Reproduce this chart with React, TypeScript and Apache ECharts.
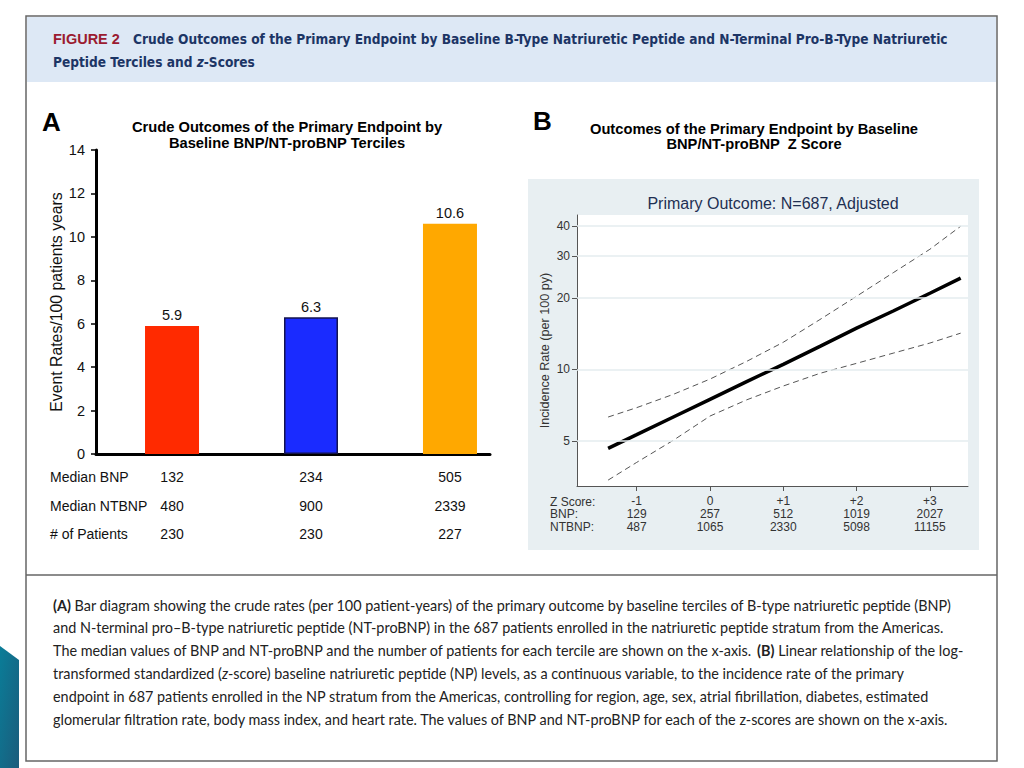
import React, { useEffect, useRef } from 'react';
import * as echarts from 'echarts';

// ---------- Panel A data ----------
const tercilePositions = [0, 1, 2];
const tercileRates = [5.9, 6.3, 10.6];
const tercileColors = ['#ff2a00', '#1a2bff', '#ffa800'];
const medianBNP = [132, 234, 505];
const medianNTBNP = [480, 900, 2339];
const patientCounts = [230, 230, 227];
const rowLabelsA = ['Median BNP', 'Median NTBNP', '# of Patients'];
const rateTicks = [0, 2, 4, 6, 8, 10, 12, 14];

// ---------- Panel B data ----------
const zTicks = [-1, 0, 1, 2, 3];
const zTickLabels = ['-1', '0', '+1', '+2', '+3'];
const bnpAtZ = [129, 257, 512, 1019, 2027];
const ntbnpAtZ = [487, 1065, 2330, 5098, 11155];
const rowLabelsB = ['Z Score:', 'BNP:', 'NTBNP:'];
const incidenceTicks = [5, 10, 20, 30, 40];
const zScores = [-1.39, -1, -0.5, 0, 0.5, 1, 1.5, 2, 2.5, 3, 3.42];
const incidence = [4.65, 5.31, 6.3, 7.48, 8.88, 10.5, 12.5, 14.9, 17.6, 20.9, 24.2];
const upperCI = [6.3, 6.9, 7.85, 9.1, 10.8, 13.0, 16.2, 20.3, 25.5, 32.0, 40.0];
const lowerCI = [3.42, 4.06, 5.03, 6.36, 7.44, 8.51, 9.62, 10.6, 11.7, 12.9, 14.2];

// ---------- Texts ----------
const headerLabel = 'FIGURE 2';
const headerLine1 =
  'Crude Outcomes of the Primary Endpoint by Baseline B-Type Natriuretic Peptide and N-Terminal Pro-B-Type Natriuretic';
const headerLine2 = 'Peptide Terciles and {i|z}-Scores';
const titleA = 'Crude Outcomes of the Primary Endpoint by\nBaseline BNP/NT-proBNP Terciles';
const titleB = 'Outcomes of the Primary Endpoint by Baseline\nBNP/NT-proBNP  Z Score';
const subtitleB = 'Primary Outcome: N=687, Adjusted';
const yNameA = 'Event Rates/100 patients years';
const yNameB = 'Incidence Rate (per 100 py)';
const captionLines = [
  '{b|(A)} Bar diagram showing the crude rates (per 100 patient-years) of the primary outcome by baseline terciles of B-type natriuretic peptide (BNP)',
  'and N-terminal pro–B-type natriuretic peptide (NT-proBNP) in the 687 patients enrolled in the natriuretic peptide stratum from the Americas.',
  'The median values of BNP and NT-proBNP and the number of patients for each tercile are shown on the x-axis. {b|(B)} Linear relationship of the log-',
  'transformed standardized ({i|z}-score) baseline natriuretic peptide (NP) levels, as a continuous variable, to the incidence rate of the primary',
  'endpoint in 687 patients enrolled in the NP stratum from the Americas, controlling for region, age, sex, atrial fibrillation, diabetes, estimated',
  'glomerular filtration rate, body mass index, and heart rate. The values of BNP and NT-proBNP for each of the z-scores are shown on the x-axis.',
];

const FONT = "'Liberation Sans', Arial, Helvetica, sans-serif";
const NARROW = "'Liberation Sans Narrow', 'DejaVu Sans Condensed', 'Liberation Sans', sans-serif";
const CAP = "Lato, 'Open Sans', sans-serif";
const CAP_SIZE = 14.4;
const HEAD_SIZE = 13.6;

function buildOption() {
  const captionEls = captionLines.map((line, i) => ({
    type: 'text',
    x: 53,
    y: 605 + i * 22.8,
    style: {
      text: line,
      fill: '#222',
      fontFamily: CAP,
      fontSize: CAP_SIZE,
      verticalAlign: 'middle',
      rich: {
        b: { fontFamily: CAP, fontSize: CAP_SIZE, fontWeight: 'bold', fill: '#222' },
        i: { fontFamily: CAP, fontSize: CAP_SIZE, fontStyle: 'italic', fill: '#222' },
      },
    },
  }));

  return {
    animation: false,
    textStyle: { fontFamily: FONT },
    grid: [
      { left: 96, top: 150, width: 394, height: 304, show: false },
      { left: 577, top: 215, width: 391, height: 271, show: true, backgroundColor: '#ffffff', borderWidth: 0 },
    ],
    xAxis: [
      {
        gridIndex: 0,
        type: 'value',
        min: -0.547,
        max: 2.288,
        axisLine: { show: true, onZero: false, lineStyle: { color: '#000', width: 3 } },
        axisTick: { show: false },
        splitLine: { show: false },
        axisLabel: {
          customValues: tercilePositions,
          formatter: (v: number) => {
            const i = Math.round(v);
            return `${medianBNP[i]}\n${medianNTBNP[i]}\n${patientCounts[i]}`;
          },
          fontSize: 14,
          lineHeight: 28.5,
          color: '#111',
          margin: 9,
          fontFamily: FONT,
        },
      },
      {
        gridIndex: 1,
        type: 'value',
        min: -1.8145,
        max: 3.52,
        axisLine: { show: true, onZero: false, lineStyle: { color: '#555', width: 1 } },
        axisTick: { show: true, customValues: zTicks, length: 5, lineStyle: { color: '#555' } },
        splitLine: { show: false },
        axisLabel: {
          customValues: zTicks,
          formatter: (v: number) => {
            const i = zTicks.indexOf(Math.round(v));
            return `${zTickLabels[i]}\n${bnpAtZ[i]}\n${ntbnpAtZ[i]}`;
          },
          fontSize: 12,
          lineHeight: 12.8,
          color: '#333',
          margin: 9,
          fontFamily: FONT,
        },
      },
    ],
    yAxis: [
      {
        gridIndex: 0,
        type: 'value',
        min: 0,
        max: 14,
        axisLine: { show: true, onZero: false, lineStyle: { color: '#000', width: 3 } },
        axisTick: { show: true, customValues: rateTicks, length: 5, lineStyle: { color: '#000', width: 1.5 } },
        splitLine: { show: false },
        axisLabel: { customValues: rateTicks, fontSize: 14.5, color: '#111', margin: 11, rotate: 0, fontFamily: FONT },
        name: yNameA,
        nameLocation: 'middle',
        nameGap: 30,
        nameTextStyle: { fontSize: 15.8, color: '#111', fontFamily: FONT },
      },
      {
        gridIndex: 1,
        type: 'log',
        logBase: 10,
        min: 3.23,
        max: 44.6,
        axisLine: { show: true, onZero: false, lineStyle: { color: '#555', width: 1 } },
        axisTick: { show: true, customValues: incidenceTicks, length: 5, lineStyle: { color: '#555' } },
        splitLine: { show: false },
        axisLabel: { customValues: incidenceTicks, fontSize: 12, color: '#333', margin: 7, rotate: 0, fontFamily: FONT },
        name: yNameB,
        nameLocation: 'middle',
        nameGap: 26,
        nameTextStyle: { fontSize: 12.6, color: '#333', fontFamily: FONT },
      },
    ],
    series: [
      {
        type: 'bar',
        xAxisIndex: 0,
        yAxisIndex: 0,
        barWidth: 54,
        data: tercilePositions.map((p, i) => ({
          value: [p, tercileRates[i]],
          itemStyle: {
            color: tercileColors[i],
            borderColor: i === 1 ? '#141450' : tercileColors[i],
            borderWidth: i === 1 ? 1.5 : 0,
          },
        })),
        label: {
          show: true,
          position: 'top',
          distance: 3,
          fontSize: 14.5,
          color: '#111',
          fontFamily: FONT,
          formatter: (p: any) => p.value[1].toFixed(1),
        },
      },
      {
        type: 'line',
        xAxisIndex: 1,
        yAxisIndex: 1,
        data: zScores.map((z, i) => [z, lowerCI[i]]),
        showSymbol: false,
        lineStyle: { color: '#555', width: 1, type: [6, 4] },
        markLine: {
          silent: true,
          symbol: ['none', 'none'],
          label: { show: false },
          lineStyle: { color: '#e4edef', width: 1.5, type: 'solid' },
          data: incidenceTicks.map((v) => ({ yAxis: v })),
        },
        z: 2,
      },
      {
        type: 'line',
        xAxisIndex: 1,
        yAxisIndex: 1,
        data: zScores.map((z, i) => [z, upperCI[i]]),
        showSymbol: false,
        lineStyle: { color: '#555', width: 1, type: [6, 4] },
        z: 3,
      },
      {
        type: 'line',
        xAxisIndex: 1,
        yAxisIndex: 1,
        data: zScores.map((z, i) => [z, incidence[i]]),
        showSymbol: false,
        lineStyle: { color: '#000', width: 3.5 },
        z: 4,
      },
    ],
    graphic: {
      elements: [
        { type: 'rect', z: -10, shape: { x: 27, y: 17, width: 969, height: 65 }, style: { fill: '#dde8f5' } },
        { type: 'rect', z: -10, shape: { x: 528, y: 179, width: 451, height: 371 }, style: { fill: '#e8eff2' } },
        {
          type: 'rect',
          z: 5,
          shape: { x: 26, y: 16, width: 971, height: 745 },
          style: { fill: 'none', stroke: '#666', lineWidth: 1.5 },
        },
        { type: 'line', z: 5, shape: { x1: 26, y1: 575, x2: 997, y2: 575 }, style: { stroke: '#666', lineWidth: 1.5 } },
        {
          type: 'polygon',
          z: 5,
          shape: { points: [[0, 646], [19, 660], [19, 768], [0, 768]] },
          style: {
            fill: new echarts.graphic.LinearGradient(0, 0, 1, 1, [
              { offset: 0, color: '#0a7d98' },
              { offset: 1, color: '#1b5c7c' },
            ]),
          },
        },
        {
          type: 'text',
          x: 53,
          y: 39,
          style: { text: headerLabel, fill: '#9b1b30', fontFamily: FONT, fontWeight: 'bold', fontSize: 14.5, verticalAlign: 'middle' },
        },
        {
          type: 'text',
          x: 133,
          y: 39,
          style: { text: headerLine1, fill: '#1c3565', fontFamily: NARROW, fontWeight: 'bold', fontSize: HEAD_SIZE, verticalAlign: 'middle' },
        },
        {
          type: 'text',
          x: 53,
          y: 62,
          style: {
            text: headerLine2,
            fill: '#1c3565',
            fontFamily: NARROW,
            fontWeight: 'bold',
            fontSize: HEAD_SIZE,
            verticalAlign: 'middle',
            rich: { i: { fontFamily: NARROW, fontWeight: 'bold', fontStyle: 'italic', fontSize: HEAD_SIZE, fill: '#1c3565' } },
          },
        },
        {
          type: 'text',
          x: 42,
          y: 122,
          style: { text: 'A', fill: '#000', fontFamily: FONT, fontWeight: 'bold', fontSize: 26, verticalAlign: 'middle' },
        },
        {
          type: 'text',
          x: 287,
          y: 135,
          style: {
            text: titleA,
            fill: '#000',
            fontFamily: FONT,
            fontWeight: 'bold',
            fontSize: 14.7,
            lineHeight: 16,
            align: 'center',
            verticalAlign: 'middle',
          },
        },
        {
          type: 'text',
          x: 533,
          y: 121,
          style: { text: 'B', fill: '#000', fontFamily: FONT, fontWeight: 'bold', fontSize: 26, verticalAlign: 'middle' },
        },
        {
          type: 'text',
          x: 754,
          y: 136.5,
          style: {
            text: titleB,
            fill: '#000',
            fontFamily: FONT,
            fontWeight: 'bold',
            fontSize: 14.7,
            lineHeight: 15.5,
            align: 'center',
            verticalAlign: 'middle',
          },
        },
        {
          type: 'text',
          x: 773,
          y: 203,
          style: { text: subtitleB, fill: '#1e2f52', fontFamily: FONT, fontSize: 16, align: 'center', verticalAlign: 'middle' },
        },
        {
          type: 'text',
          x: 50,
          y: 462.75,
          style: { text: rowLabelsA.join('\n'), fill: '#111', fontFamily: FONT, fontSize: 14, lineHeight: 28.5, verticalAlign: 'top' },
        },
        {
          type: 'text',
          x: 550,
          y: 495.3,
          style: { text: rowLabelsB.join('\n'), fill: '#333', fontFamily: FONT, fontSize: 12, lineHeight: 12.8, verticalAlign: 'top' },
        },
        ...captionEls,
      ],
    },
  };
}

export default function App() {
  const ref = useRef<HTMLDivElement>(null);
  useEffect(() => {
    if (!ref.current) return;
    const chart = echarts.init(ref.current, undefined, { renderer: 'svg' });
    chart.setOption(buildOption() as any);
    return () => chart.dispose();
  }, []);
  return (
    <div
      ref={ref}
      style={{ position: 'fixed', left: 0, top: 0, width: 1024, height: 768, background: '#ffffff' }}
    />
  );
}
